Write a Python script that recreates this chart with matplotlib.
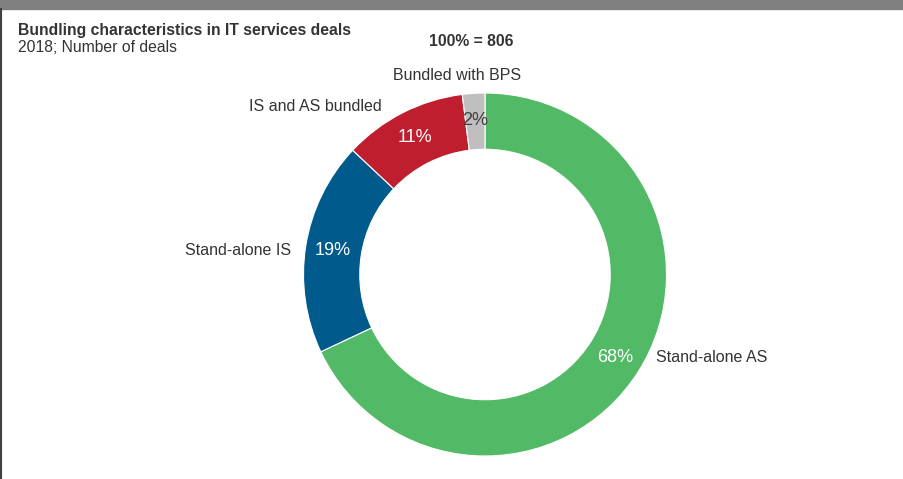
import matplotlib.pyplot as plt
from matplotlib.patches import Rectangle
from matplotlib.lines import Line2D

plt.rcParams['font.family'] = ['Liberation Sans', 'DejaVu Sans']

# data
categories = ['Stand-alone AS', 'Stand-alone IS', 'IS and AS bundled', 'Bundled with BPS']
shares = [68, 19, 11, 2]
colors = ['#52BA66', '#005A8C', '#BE1E2D', '#BFBFBF']
pct_colors = ['white', 'white', 'white', '#404040']
total_deals = 806

W, H = 904, 479
fig = plt.figure(figsize=(W / 100, H / 100), dpi=100)

# donut centre (485, 274.5) px, outer radius 181.5 px
cx, cy, r = 485, 274.5, 181.5
ax = fig.add_axes([(cx - r) / W, (H - cy - r) / H, 2 * r / W, 2 * r / H])
wedges, _, autotexts = ax.pie(shares, colors=colors, startangle=90, counterclock=False,
                              radius=1, autopct='%d%%', pctdistance=0.85,
                              wedgeprops=dict(width=0.31, edgecolor='white', linewidth=0.8),
                              textprops=dict(fontsize=13))
for t, c in zip(autotexts, pct_colors):
    t.set_color(c)
ax.set_xlim(-1, 1)
ax.set_ylim(-1, 1)
ax.set_aspect('equal')
ax.axis('off')

lab_kw = dict(fontsize=11.5, color='#333333', va='center')
ax.text(0.94, -0.455, categories[0], ha='left', **lab_kw)
ax.text(-1.07, 0.13, categories[1], ha='right', **lab_kw)
ax.text(-0.57, 0.923, categories[2], ha='right', **lab_kw)
ax.text(-0.155, 1.094, categories[3], ha='center', **lab_kw)

# titles
fig.text(18 / W, 1 - 30 / H, 'Bundling characteristics in IT services deals',
         fontsize=11.3, fontweight='bold', color='#333333', va='center')
fig.text(18 / W, 1 - 47 / H, '2018; Number of deals', fontsize=11.3, color='#333333', va='center')
fig.text(471 / W, 1 - 42 / H, f'100% = {total_deals}', fontsize=11.3, fontweight='bold',
         color='#333333', va='center', ha='center')

# frame bits
fig.patches.append(Rectangle((0, 1 - 9 / H), 1, 9 / H, transform=fig.transFigure,
                             color='#808080', zorder=0))
fig.lines.append(Line2D([1 / W, 1 / W], [0, 1 - 9 / H], transform=fig.transFigure,
                        color='#404040', linewidth=1.5))

fig.savefig('out.png', dpi=100)
